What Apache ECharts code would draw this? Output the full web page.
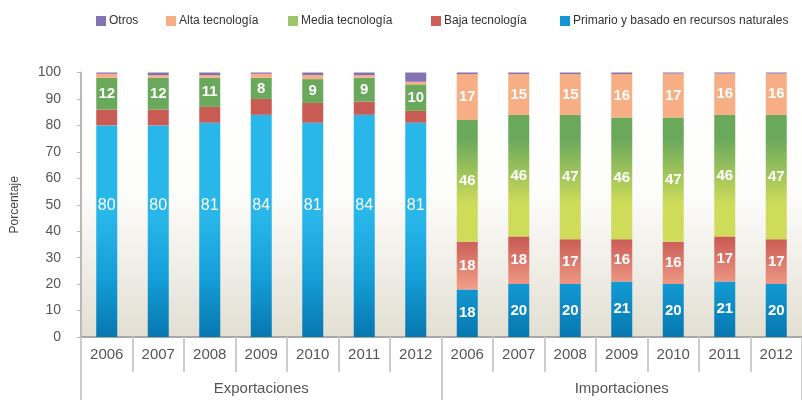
<!DOCTYPE html>
<html>
<head>
<meta charset="utf-8">
<script src="https://cdn.jsdelivr.net/npm/echarts@6/dist/echarts.min.js"></script>
<style>html,body{margin:0;padding:0;background:#fff}#c{width:802px;height:400px}</style>
</head>
<body>
<div id="c"></div>
<script>
const years = ['2006','2007','2008','2009','2010','2011','2012'];
const groups = ['Exportaciones','Importaciones'];
const seriesNames = ['Otros','Alta tecnología','Media tecnología','Baja tecnología','Primario y basado en recursos naturales'];
const yTicks = [0,100,10];

const expPrimario = [80,80,81,84,81,84,81];
const expBaja     = [6,6,6,6,7.5,5,4.5];
const expMedia    = [12,12,11,8,9,9,10];
const expAlta     = [1.5,1,1,1.5,1.5,1,1];
const expOtros    = [0.5,1,1,0.5,1,1,3.5];

const impPrimario = [18,20,20,21,20,21,20];
const impBaja     = [18,18,17,16,16,17,17];
const impMedia    = [46,46,47,46,47,46,47];
const impAlta     = [17.4,15.4,15.4,16.4,16.6,15.6,15.6];
const impOtros    = [0.6,0.6,0.6,0.6,0.4,0.4,0.4];

const FONT = "'Liberation Sans', Arial, sans-serif";
const categories = years.concat(years);

const chart = echarts.init(document.getElementById('c'), null, {renderer:'canvas'});

function grad(y0, y1, stops){
  return new echarts.graphic.LinearGradient(0, y0, 0, y1, stops, true);
}
const blueFill  = grad(215, 337, [{offset:0,color:'#29b7ea'},{offset:0.5,color:'#159fd8'},{offset:1,color:'#0777b0'}]);
const redFill   = grad(238, 292, [{offset:0,color:'#c95b55'},{offset:1,color:'#f5a28b'}]);
const greenFill = grad(138, 205, [{offset:0,color:'#6aa85c'},{offset:1,color:'#cfdc5a'}]);
const altaColor = '#f8ae84';
const otrosColor = '#8473b3';

const boldLbl = {show:true, color:'#fff', fontFamily:FONT, fontWeight:'bold', fontSize:15, position:'inside'};

function build(expArr, impArr, labelExp, labelImp, expLabelFn){
  const out = [];
  expArr.forEach((v,i)=>{
    const item = {value:v};
    if (labelExp) item.label = expLabelFn ? expLabelFn(v) : Object.assign({}, boldLbl, {formatter: String(Math.round(v))});
    else item.label = {show:false};
    out.push(item);
  });
  impArr.forEach((v,i)=>{
    const item = {value:v};
    if (labelImp) item.label = Object.assign({}, boldLbl, {formatter: String(Math.round(v))});
    else item.label = {show:false};
    out.push(item);
  });
  return out;
}

const expPrimLabel = v => ({show:true, color:'#fff', fontFamily:FONT, fontSize:16, position:'inside',
  formatter:String(Math.round(v)), offset:[0, -(49.5 - v/2)*2.65]});

const common = {type:'bar', stack:'total', barWidth:21, xAxisIndex:0, yAxisIndex:0};

const option = {
  backgroundColor:'#fff',
  animation:false,
  textStyle:{fontFamily:FONT},
  legend: [
    {left:91, data:[{name:seriesNames[0], itemStyle:{color:otrosColor}}]},
    {left:161, data:[{name:seriesNames[1], itemStyle:{color:altaColor}}]},
    {left:283, data:[{name:seriesNames[2], itemStyle:{color:'#9cc46c'}}]},
    {left:426, data:[{name:seriesNames[3], itemStyle:{color:'#cc5f5a'}}]},
    {left:555, data:[{name:seriesNames[4], itemStyle:{color:'#1596d2'}}]}
  ].map(l => Object.assign({top:10, itemWidth:10, itemHeight:10, itemGap:0, icon:'rect', selectedMode:false,
      textStyle:{fontFamily:FONT, fontSize:12, color:'#333', padding:[0,0,0,-2]}}, l)),
  grid:{left:81, top:72.5, width:727, height:264.5, show:true, borderWidth:0,
    backgroundColor:new echarts.graphic.LinearGradient(0,0,0,1,[
      {offset:0,color:'#ffffff'},{offset:0.45,color:'#fdfdfc'},{offset:1,color:'#e2dfd2'}])},
  xAxis:[
    {type:'category', data:categories, position:'bottom',
     axisLine:{show:true, lineStyle:{color:'#a8a8a8', width:2}},
     axisTick:{show:true, length:35, interval:0, lineStyle:{color:'#cccccc', width:2}},
     axisLabel:{interval:0, margin:10, fontSize:15, color:'#555', fontFamily:FONT}},
    {type:'category', data:groups, position:'bottom',
     axisLine:{show:false},
     axisTick:{show:true, length:64, interval:0, lineStyle:{color:'#cccccc', width:2}},
     axisLabel:{interval:0, margin:44, fontSize:15, color:'#555', fontFamily:FONT}}
  ],
  yAxis:{type:'value', min:yTicks[0], max:yTicks[1], interval:yTicks[2],
    name:'Porcentaje', nameLocation:'middle', nameGap:60,
    nameTextStyle:{fontSize:12, color:'#444', fontFamily:FONT},
    axisLine:{show:true, lineStyle:{color:'#b8b8b8', width:2}},
    axisTick:{show:true, length:4, lineStyle:{color:'#b8b8b8'}},
    splitLine:{show:false},
    axisLabel:{fontSize:14, color:'#555', margin:20, fontFamily:FONT}},
  series:[
    Object.assign({}, common, {name:seriesNames[4], itemStyle:{color:blueFill},
      data:build(expPrimario, impPrimario, true, true, expPrimLabel)}),
    Object.assign({}, common, {name:seriesNames[3], itemStyle:{color:redFill},
      data:build(expBaja, impBaja, false, true)}),
    Object.assign({}, common, {name:seriesNames[2], itemStyle:{color:greenFill},
      data:build(expMedia, impMedia, true, true)}),
    Object.assign({}, common, {name:seriesNames[1], itemStyle:{color:altaColor},
      data:build(expAlta, impAlta, false, true)}),
    Object.assign({}, common, {name:seriesNames[0], itemStyle:{color:otrosColor},
      data:build(expOtros, impOtros, false, false)})
  ]
};
chart.setOption(option);
</script>
</body>
</html>
